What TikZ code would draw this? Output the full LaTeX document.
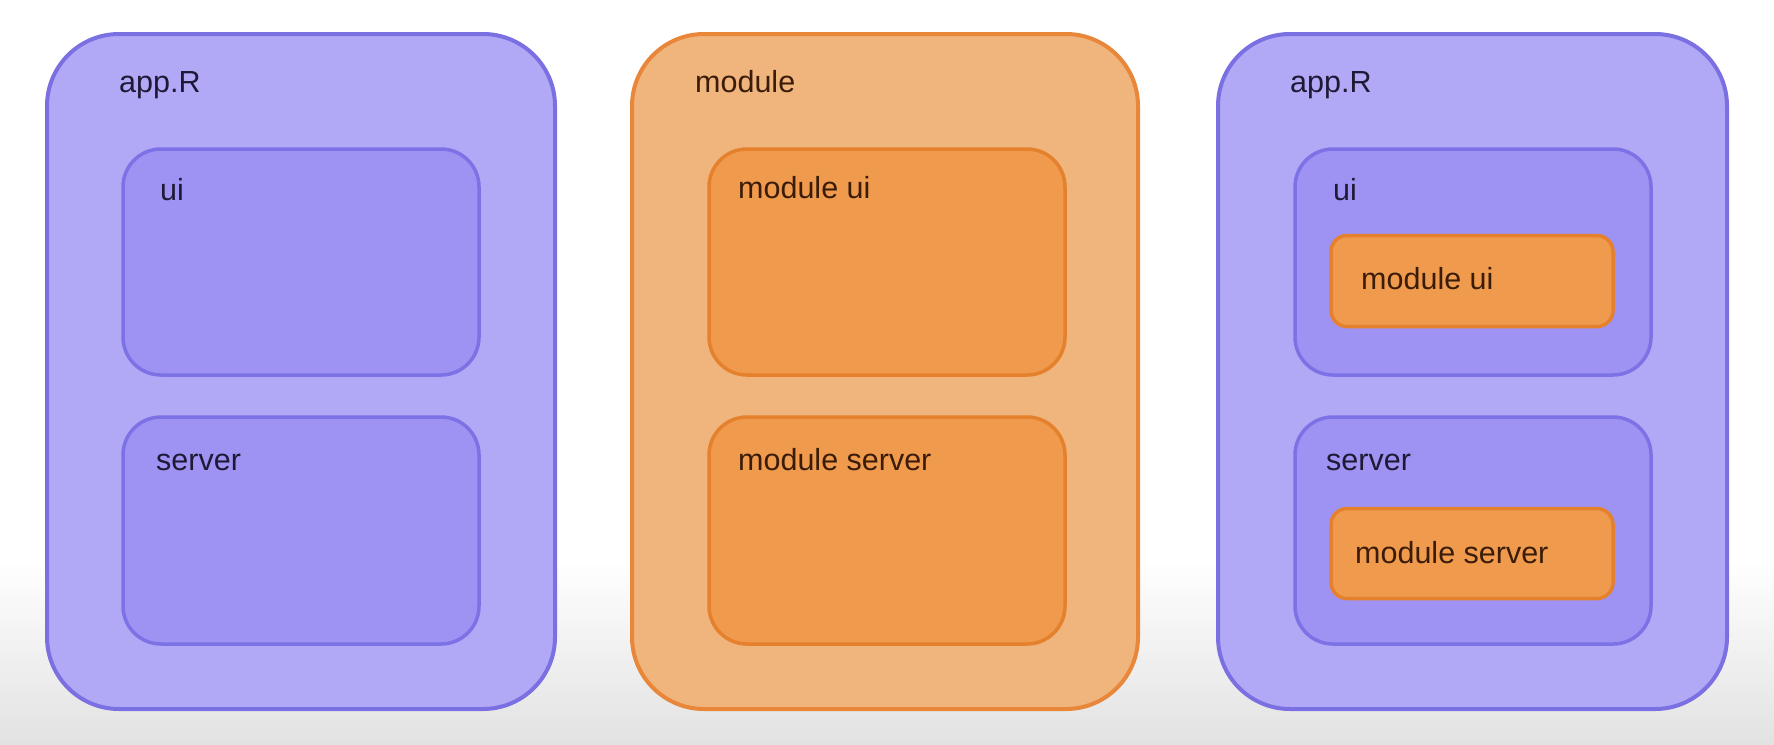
\documentclass[tikz,border=0pt]{standalone}
\usepackage{fontspec}
\setmainfont{Liberation Sans}
\begin{document}
\begin{tikzpicture}[x=1pt,y=-1pt,
  outerP/.style={draw=purpleB, fill=purpleO, line width=4pt, rounded corners=72pt, inner sep=0pt},
  innerP/.style={draw=purpleIB, fill=purpleI, line width=3.5pt, rounded corners=38pt, inner sep=0pt},
  outerO/.style={draw=orangeB, fill=orangeO, line width=4pt, rounded corners=72pt, inner sep=0pt},
  innerO/.style={draw=orangeIB, fill=orangeI, line width=3.5pt, rounded corners=38pt, inner sep=0pt},
  smallO/.style={draw=orangeIB, fill=orangeI, line width=3.5pt, rounded corners=16pt, inner sep=0pt},
  lbl/.style={anchor=base west, inner sep=0pt, font=\fontsize{30.5}{33}\selectfont, text=txt},
  lblO/.style={lbl, text=txtO}]
\definecolor{purpleO}{HTML}{B1A9F6}
\definecolor{purpleB}{HTML}{7B70E2}
\definecolor{purpleI}{HTML}{9E93F2}
\definecolor{purpleIB}{HTML}{7D71E6}
\definecolor{orangeO}{HTML}{F0B47D}
\definecolor{orangeB}{HTML}{E8873A}
\definecolor{orangeI}{HTML}{EF9A4C}
\definecolor{orangeIB}{HTML}{E5812D}
\definecolor{txt}{HTML}{1E1A36}
\definecolor{txtO}{HTML}{3A1C08}
\definecolor{bgbot}{HTML}{E2E2E2}
\useasboundingbox (0,0) rectangle (1774,744);
\fill[white] (0,0) rectangle (1774,560);
\shade[top color=white, bottom color=bgbot] (0,560) rectangle (1774,744);
% left app.R
\node[outerP, minimum width=508pt, minimum height=675pt] (appL) at (301,371.5) {};
\node[innerP, minimum width=356pt, minimum height=226pt] (uiL) at (301,262) {};
\node[innerP, minimum width=356pt, minimum height=227pt] (serverL) at (301,530.5) {};
\node[lbl] (appLt) at (119,92) {app.R};
\node[lbl] (uiLt) at (160,200) {ui};
\node[lbl] (serverLt) at (156,470) {server};
% middle module
\node[outerO, minimum width=506pt, minimum height=675pt] (mod) at (885,371.5) {};
\node[innerO, minimum width=356pt, minimum height=226pt] (modui) at (887,262) {};
\node[innerO, minimum width=356pt, minimum height=227pt] (modserver) at (887,530.5) {};
\node[lblO] (modt) at (695,92) {module};
\node[lblO] (moduit) at (738,198) {module ui};
\node[lblO] (modservert) at (738,470) {module server};
% right app.R
\node[outerP, minimum width=509pt, minimum height=675pt] (appR) at (1472.5,371.5) {};
\node[innerP, minimum width=356pt, minimum height=226pt] (uiR) at (1473,262) {};
\node[innerP, minimum width=356pt, minimum height=227pt] (serverR) at (1473,530.5) {};
\node[smallO, minimum width=282pt, minimum height=91pt] (smui) at (1472,281) {};
\node[smallO, minimum width=282pt, minimum height=90pt] (smserver) at (1472,553.5) {};
\node[lbl] (appRt) at (1290,92) {app.R};
\node[lbl] (uiRt) at (1333,200) {ui};
\node[lbl] (serverRt) at (1326,470) {server};
\node[lblO] (smuit) at (1361,289) {module ui};
\node[lblO] (smservert) at (1355,563) {module server};
\end{tikzpicture}
\end{document}
